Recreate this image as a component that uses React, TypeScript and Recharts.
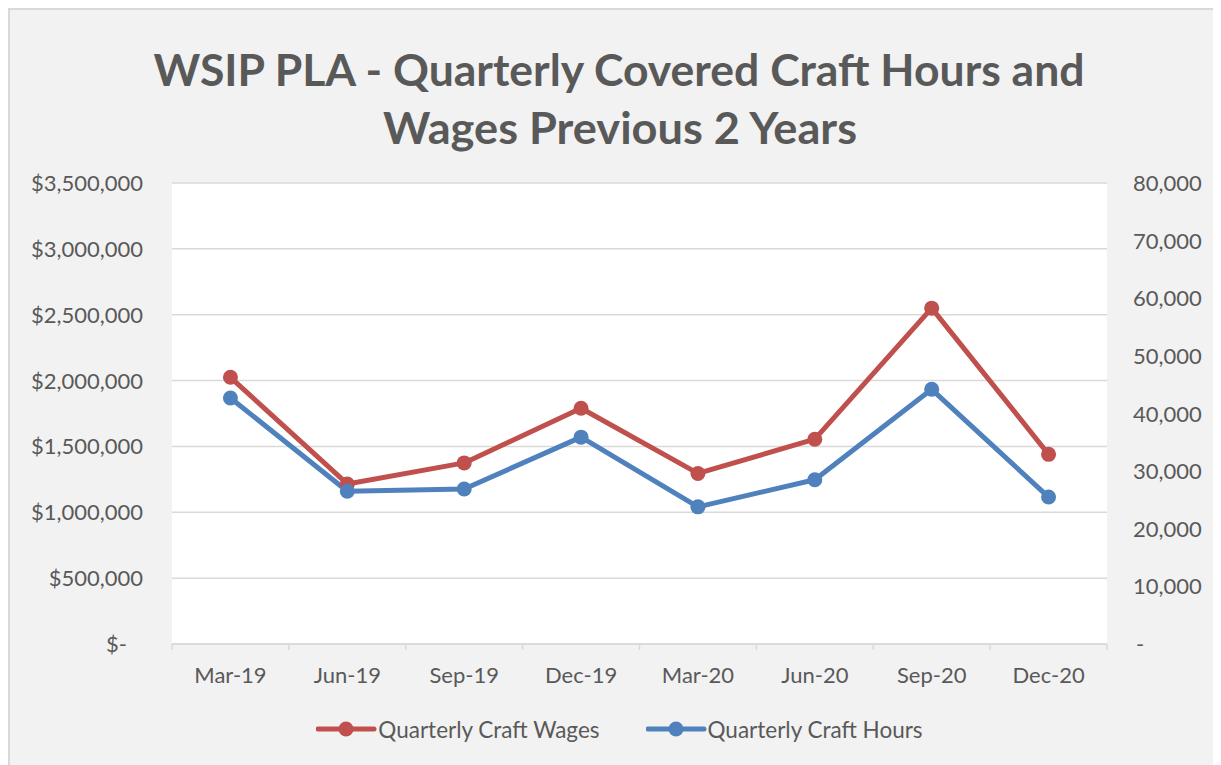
import React from 'react';
import { ComposedChart, Line, XAxis, YAxis, CartesianGrid, Legend } from 'recharts';

const categories = ['Mar-19', 'Jun-19', 'Sep-19', 'Dec-19', 'Mar-20', 'Jun-20', 'Sep-20', 'Dec-20'];
const craftWages = [2025000, 1215000, 1375000, 1790000, 1295000, 1555000, 2550000, 1440000];
const craftHours = [42700, 26500, 26900, 35900, 23800, 28500, 44200, 25500];
const wageTicks = [0, 500000, 1000000, 1500000, 2000000, 2500000, 3000000, 3500000];
const hourTicks = [0, 10000, 20000, 30000, 40000, 50000, 60000, 70000, 80000];
const titleLines = ['WSIP PLA - Quarterly Covered Craft Hours and', 'Wages Previous 2 Years'];
const seriesNames = ['Quarterly Craft Wages', 'Quarterly Craft Hours'];

const data = categories.map((c, i) => ({ month: c, wages: craftWages[i], hours: craftHours[i] }));

const RED = '#C0504D';
const BLUE = '#4F81BD';
const TEXT = '#595959';
const GRID = '#D9D9D9';
const FONT = 'Lato, "Open Sans", sans-serif';

const fmtMoney = (v: number) => (v === 0 ? '$-' : '$' + v.toLocaleString('en-US'));
const fmtNum = (v: number) => (v === 0 ? '-' : v.toLocaleString('en-US'));

const LeftTick = (props: any) => {
  const { x, y, payload } = props;
  const zero = payload.value === 0;
  return (
    <text x={x - (zero ? 45 : 29)} y={y} dy={8} textAnchor="end" fill={TEXT} fontSize={22} fontFamily={FONT}>
      {fmtMoney(payload.value)}
    </text>
  );
};

const RightTick = (props: any) => {
  const { x, y, payload } = props;
  const zero = payload.value === 0;
  return (
    <text x={x + (zero ? 29 : 26)} y={y} dy={8} textAnchor="start" fill={TEXT} fontSize={22} fontFamily={FONT}>
      {fmtNum(payload.value)}
    </text>
  );
};

const XTick = (props: any) => {
  const { x, y, payload, width } = props;
  const half = width / categories.length / 2;
  const last = payload.index === categories.length - 1;
  return (
    <g>
      <line x1={x - half} x2={x - half} y1={y} y2={y + 6} stroke={GRID} strokeWidth={1.5} />
      {last && <line x1={x + half} x2={x + half} y1={y} y2={y + 6} stroke={GRID} strokeWidth={1.5} />}
      <text x={x} y={y} dy={39} textAnchor="middle" fill={TEXT} fontSize={22} fontFamily={FONT}>
        {payload.value}
      </text>
    </g>
  );
};

const LegendContent = () => {
  const colors = [RED, BLUE];
  return (
    <div style={{ height: 40, display: 'flex', justifyContent: 'center', alignItems: 'center', gap: 46, paddingLeft: 10 }}>
      {seriesNames.map((n, i) => (
        <div key={n} style={{ display: 'flex', alignItems: 'center' }}>
          <svg width={62} height={20}>
            <line x1={2} x2={58} y1={10} y2={10} stroke={colors[i]} strokeWidth={5} strokeLinecap="round" />
            <circle cx={30} cy={10} r={7.5} fill={colors[i]} />
          </svg>
          <span style={{ fontFamily: FONT, fontSize: 22.5, color: TEXT }}>{n}</span>
        </div>
      ))}
    </div>
  );
};

export default function App() {
  return (
    <div style={{ position: 'relative', width: 1213, height: 757, background: '#F2F2F2', borderLeft: `2px solid ${GRID}`, borderTop: `2px solid ${GRID}`, boxSizing: 'border-box' }}>
      <svg width={1213} height={160} style={{ position: 'absolute', left: 0, top: 0 }}>
        <text x={609} y={76} textAnchor="middle" fill={TEXT} fontFamily={FONT} fontWeight="bold" fontSize={44} textLength={931} lengthAdjust="spacingAndGlyphs">
          {titleLines[0]}
        </text>
        <text x={610} y={134} textAnchor="middle" fill={TEXT} fontFamily={FONT} fontWeight="bold" fontSize={44} textLength={474} lengthAdjust="spacingAndGlyphs">
          {titleLines[1]}
        </text>
      </svg>
      <div style={{ position: 'absolute', left: -2, top: -2 }}>
        <ComposedChart width={1213} height={757} data={data} margin={{ top: 175, right: 0, bottom: 16, left: 0 }}>
          <CartesianGrid vertical={false} stroke={GRID} strokeWidth={1.5} fill="#FFFFFF" yAxisId="left" />
          <XAxis dataKey="month" scale="band" height={65} axisLine={{ stroke: GRID, strokeWidth: 1.5 }} tickLine={false} tickSize={0} tickMargin={0} tick={<XTick />} interval={0} />
          <YAxis yAxisId="left" orientation="left" width={164} domain={[0, 3500000]} ticks={wageTicks} axisLine={false} tickLine={false} tickSize={0} tickMargin={0} tick={<LeftTick />} />
          <YAxis yAxisId="right" orientation="right" width={114} domain={[0, 80000]} ticks={hourTicks} axisLine={false} tickLine={false} tickSize={0} tickMargin={0} tick={<RightTick />} />
          <Legend verticalAlign="bottom" height={40} content={<LegendContent />} />
          <Line yAxisId="left" dataKey="wages" name={seriesNames[0]} stroke={RED} strokeWidth={5} strokeLinejoin="round" dot={{ r: 7.5, fill: RED, stroke: RED, strokeWidth: 0 }} activeDot={false} isAnimationActive={false} />
          <Line yAxisId="right" dataKey="hours" name={seriesNames[1]} stroke={BLUE} strokeWidth={5} strokeLinejoin="round" dot={{ r: 7.5, fill: BLUE, stroke: BLUE, strokeWidth: 0 }} activeDot={false} isAnimationActive={false} />
        </ComposedChart>
      </div>
    </div>
  );
}
